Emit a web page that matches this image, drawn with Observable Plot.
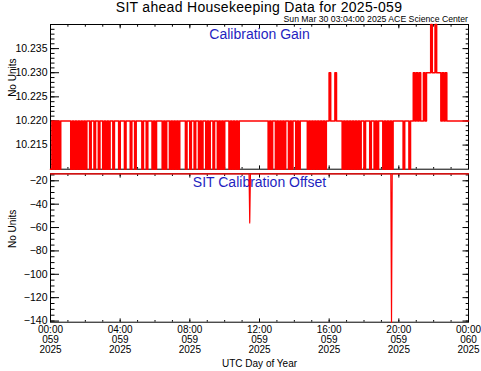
<!DOCTYPE html>
<html><head><meta charset="utf-8">
<script src="https://cdn.jsdelivr.net/npm/d3@7"></script>
<script src="https://cdn.jsdelivr.net/npm/@observablehq/plot@0.6"></script>
<style>
body{margin:0;background:#fff;}
#chart{position:relative;width:481px;height:371px;overflow:hidden;background:#fff;font-family:"Liberation Sans",Arial,sans-serif;color:#000;}
#chart svg{position:absolute;left:0;overflow:visible;}
#title{position:absolute;left:50px;width:418px;top:-0.5px;text-align:center;font-size:14px;line-height:14px;letter-spacing:0.3px;white-space:nowrap;}
#stamp{position:absolute;right:13px;top:15.1px;font-size:8.7px;line-height:8.7px;white-space:nowrap;}
</style>
</head><body>
<div id="chart">
  <div id="title">SIT ahead Housekeeping Data for 2025-059</div>
  <div id="stamp">Sun Mar 30 03:04:00 2025 ACE Science Center</div>
</div>
<script>
// ---- data ----
// Calibration Gain, one code per 5-minute sample from 00:00 (0=10.21, 1=10.22, 2=10.23, 3=10.24)
const gainLevelValues = [10.21, 10.22, 10.23, 10.24];
const gainCodeRows = [
  "0101010111","1111010101","0101011011","0110110101","0110111011",
  "1011101101","1110110111","0101111010","1101010101","1110110110",
  "1101011010","1101101010","1110101010","1111111111","1111111111",
  "0101101010","1011010110","1011111010","1010101010","1121112111",
  "1010101010","1010110111","0110101110","1010101111","1110111011",
  "2121211212","2232232221","2121111111","11111111"
];
const gainSampleMinutes = 5;
// SIT Calibration Offset (hours, values)
const offsetHours  = [0, 11.40, 11.44, 11.48, 19.54, 19.58, 19.62, 24];
const offsetValues = [-14, -14, -56, -14, -14, -141, -14, -14];

// tick labels
const xTickHours = [0, 4, 8, 12, 16, 20, 24];
const xTickClock = ["00:00","04:00","08:00","12:00","16:00","20:00","00:00"];
const xTickDay   = ["059","059","059","059","059","059","060"];
const xTickYear  = ["2025","2025","2025","2025","2025","2025","2025"];
const gainTickValues = [10.215, 10.220, 10.225, 10.230, 10.235];
const gainTickLabels = ["10.215","10.220","10.225","10.230","10.235"];
const offsetTickValues = [-140, -120, -100, -80, -60, -40, -20];
const offsetTickLabels = ["−140","−120","−100","−80","−60","−40","−20"];

// ---- build tables ----
const codes = gainCodeRows.join("");
const gain = Array.from(codes, (c, i) => ({t: i * gainSampleMinutes / 60, v: gainLevelValues[+c]}));
gain.push({t: 24, v: gain[gain.length - 1].v});
const offset = offsetHours.map((t, i) => ({t, v: offsetValues[i]}));

const xMinor = d3.range(0, 25);
const gainMinor = d3.range(10211, 10240).map(v => v / 1000);
const offsetMinor = d3.range(-140, -14, 5);

const FONT = "Liberation Sans, Arial, sans-serif";
const RED = "#ff0000";
const BLUE = "#1f1fbf";

function tickOnly(opts) { return {tickFormat: () => "", label: null, ...opts}; }

function frameTicks(major, minor) {
  return [
    Plot.frame({stroke: "black", strokeWidth: 1}),
    Plot.axisX(xTickHours, tickOnly({anchor: "bottom", tickSize: 3.3, dy: -3.3})),
    Plot.axisX(xMinor, tickOnly({anchor: "bottom", tickSize: 1.7, dy: -1.7})),
    Plot.axisX(xTickHours, tickOnly({anchor: "top", tickSize: 3.3, dy: 3.3})),
    Plot.axisX(xMinor, tickOnly({anchor: "top", tickSize: 1.7, dy: 1.7})),
    Plot.axisY(major, tickOnly({anchor: "left", tickSize: 9, dx: 9})),
    Plot.axisY(minor, tickOnly({anchor: "left", tickSize: 4.5, dx: 4.5})),
    Plot.axisY(major, tickOnly({anchor: "right", tickSize: 6.5, dx: -6.5})),
    Plot.axisY(minor, tickOnly({anchor: "right", tickSize: 3.3, dx: -3.3}))
  ];
}

const gainPlot = Plot.plot({
  width: 481, height: 170,
  marginTop: 24, marginBottom: 1.3, marginLeft: 50, marginRight: 13,
  x: {domain: [0, 24]},
  y: {domain: [10.21, 10.24]},
  style: {fontFamily: FONT, fontSize: "10.5px", background: "transparent", color: "black", overflow: "visible"},
  marks: [
    ...frameTicks(gainTickValues, gainMinor),
    Plot.axisY(gainTickValues, {anchor: "left", tickSize: 0, tickPadding: 3, label: null, fontSize: 10.5,
      tickFormat: d => gainTickLabels[gainTickValues.indexOf(d)]}),
    Plot.line(gain, {x: "t", y: "v", stroke: RED, strokeWidth: 1.65, curve: "step-after"}),
    Plot.text(["Calibration Gain"], {text: d => d, frameAnchor: "top", lineAnchor: "top", dy: 4.3, fill: BLUE, fontSize: 14}),
    Plot.text(["No Units"], {text: d => d, frameAnchor: "left", dx: -38, rotate: -90, fontSize: 10})
  ]
});
gainPlot.style.top = "0px";

const offsetPlot = Plot.plot({
  width: 481, height: 201,
  marginTop: 3.3, marginBottom: 49.3, marginLeft: 50, marginRight: 13,
  x: {domain: [0, 24]},
  y: {domain: [-141, -14]},
  style: {fontFamily: FONT, fontSize: "10.5px", background: "transparent", color: "black", overflow: "visible"},
  marks: [
    ...frameTicks(offsetTickValues, offsetMinor),
    Plot.axisY(offsetTickValues, {anchor: "left", tickSize: 0, tickPadding: 3, label: null, fontSize: 10.5,
      tickFormat: d => offsetTickLabels[offsetTickValues.indexOf(d)]}),
    Plot.axisX(xTickHours, {anchor: "bottom", tickSize: 0, tickPadding: 3.8, label: null, fontSize: 10, lineHeight: 1.0,
      tickFormat: d => { const i = xTickHours.indexOf(d); return xTickClock[i] + "\n" + xTickDay[i] + "\n" + xTickYear[i]; }}),
    Plot.text(["SIT Calibration Offset"], {text: d => d, frameAnchor: "top", lineAnchor: "top", dy: 3.4, fill: BLUE, fontSize: 14}),
    Plot.line(offset, {x: "t", y: "v", stroke: RED, strokeWidth: 1.2}),
    Plot.text(["No Units"], {text: d => d, frameAnchor: "left", dx: -38, rotate: -90, fontSize: 10}),
    Plot.text(["UTC Day of Year"], {text: d => d, frameAnchor: "bottom", dy: 45, fontSize: 10})
  ]
});
offsetPlot.style.top = "170px";

const chart = document.getElementById("chart");
chart.insertBefore(offsetPlot, chart.firstChild);
chart.insertBefore(gainPlot, chart.firstChild);
</script>
</body></html>
